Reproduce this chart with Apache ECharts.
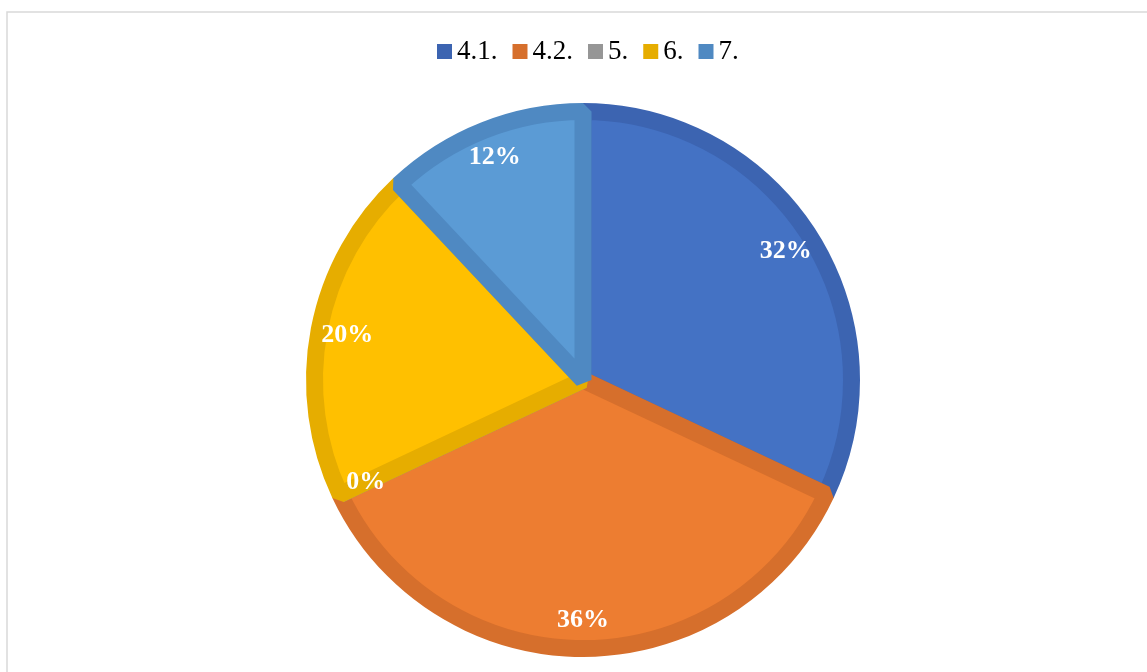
<!DOCTYPE html>
<html>
<head>
<meta charset="utf-8">
<script src="https://cdn.jsdelivr.net/npm/echarts@6/dist/echarts.min.js"></script>
<style>
html,body{margin:0;padding:0;background:#fff;}
#chart{width:1147px;height:672px;}
</style>
</head>
<body>
<div id="chart"></div>
<script>
const categories = ['4.1.', '4.2.', '5.', '6.', '7.'];
const values = [32, 36, 0, 20, 12];
const fillColors = ['#4472C4', '#ED7D31', '#A5A5A5', '#FFC000', '#5B9BD5'];
const borderColors = ['#3C64B1', '#D66F2C', '#969696', '#E6AD00', '#4F89C2'];

const chart = echarts.init(document.getElementById('chart'), null, {renderer: 'canvas'});

const pieData = categories.map((c, i) => ({
  name: c,
  value: values[i],
  itemStyle: {color: fillColors[i], borderColor: borderColors[i]}
}));
const labelData = categories.map((c, i) => ({name: c, value: values[i]}));

chart.setOption({
  animation: false,
  backgroundColor: '#fff',
  graphic: [{
    type: 'rect',
    shape: {x: 7, y: 12, width: 1300, height: 800},
    style: {fill: 'none', stroke: '#d9d9d9', lineWidth: 1.5},
    silent: true,
    z: -10
  }],
  legend: {
    top: 33,
    left: 432,
    icon: 'rect',
    itemWidth: 15,
    itemHeight: 15,
    itemGap: 15,
    data: categories.map((c, i) => ({name: c, itemStyle: {color: borderColors[i], borderWidth: 0}})),
    textStyle: {fontFamily: 'Liberation Serif', fontSize: 27, color: '#000', padding: [0, 0, 0, 0]}
  },
  series: [
    {
      type: 'pie',
      center: [583, 380],
      radius: [0, 268.5],
      startAngle: 90,
      clockwise: true,
      avoidLabelOverlap: false,
      silent: true,
      label: {show: false},
      labelLine: {show: false},
      itemStyle: {borderWidth: 17, borderJoin: 'bevel'},
      emphasis: {disabled: true},
      data: pieData
    },
    {
      type: 'pie',
      center: [583, 380],
      radius: [0, 474],
      startAngle: 90,
      clockwise: true,
      avoidLabelOverlap: false,
      silent: true,
      legendHoverLink: false,
      itemStyle: {color: 'rgba(0,0,0,0)', borderWidth: 0},
      label: {
        show: true,
        position: 'inside',
        formatter: '{d}%',
        color: '#fff',
        fontFamily: 'Liberation Serif',
        fontWeight: 'bold',
        fontSize: 26
      },
      labelLine: {show: false},
      emphasis: {disabled: true},
      data: labelData,
      z: 5
    }
  ]
});
</script>
</body>
</html>
